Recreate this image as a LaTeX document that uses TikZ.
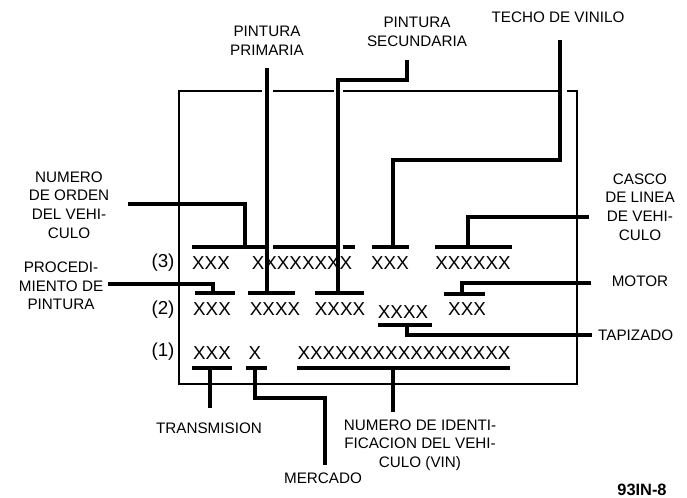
\documentclass[tikz,border=0pt]{standalone}
\usepackage{fontspec}
\setmainfont{Liberation Sans}
\usetikzlibrary{positioning}

\tikzset{
  code/.style={font=\fontsize{16}{16}\selectfont, inner sep=0pt},
  lbl/.style={font=\fontsize{13}{16}\selectfont, align=center, inner sep=0pt},
  bar/.style={line width=3pt},
  lead/.style={line width=3pt},
  frame/.style={line width=1.7pt},
}

\begin{document}
\begin{tikzpicture}[x=0.03cm,y=-0.03cm]
        \useasboundingbox (0,0) rectangle (687,498);

        \node[code] (c31) at (211,263) {XXX};
        \node[code] (c32) at (302,263) {XXXXXXXX};
        \node[code] (c33) at (390,263) {XXX};
        \node[code] (c34) at (473,263) {XXXXXX};
        \node[code] (c21) at (212,309) {XXX};
        \node[code] (c22) at (275,309) {XXXX};
        \node[code] (c23) at (340,309) {XXXX};
        \node[code] (c24) at (403,312) {XXXX};
        \node[code] (c25) at (467,309) {XXX};
        \node[code] (c11) at (212,353) {XXX};
        \node[code] (c12) at (255,353) {X};
        \node[code] (c13) at (404,353) {XXXXXXXXXXXXXXXXX};

        \node[code] (r3) at (163,263) {(3)};
        \node[code] (r2) at (163,310) {(2)};
        \node[code] (r1) at (163,352) {(1)};

        \node[lbl] (orden) at (69,205) {NUMERO\\DE ORDEN\\DEL VEHI-\\CULO};
        \node[lbl] (proc) at (61,286) {PROCEDI-\\MIENTO DE\\PINTURA};
        \node[lbl] (prim) at (267,41) {PINTURA\\PRIMARIA};
        \node[lbl] (sec) at (417,32) {PINTURA\\SECUNDARIA};
        \node[lbl] (techo) at (558,17) {TECHO DE VINILO};
        \node[lbl] (casco) at (640,207) {CASCO\\DE LINEA\\DE VEHI-\\CULO};
        \node[lbl] (motor) at (640,281) {MOTOR};
        \node[lbl, anchor=west] (tapiz) at (598,335) {TAPIZADO};
        \node[lbl] (trans) at (209,428) {TRANSMISION};
        \node[lbl] (merc) at (323,478) {MERCADO};
        \node[lbl] (vin) at (420,445) {NUMERO DE IDENTI-\\FICACION DEL VEHI-\\CULO (VIN)};
        \node[lbl, font=\fontsize{14}{14}\selectfont\bfseries] (fig) at (642,490) {93IN-8};

        \draw[frame] (262,91) -- (179,91) -- (179,384) -- (577,384) -- (577,91) -- (567,91);
        \draw[frame] (273,91) -- (334,91);
        \draw[frame] (343,91) -- (558,91);

        \draw[bar] (192,247) -- (267,247);
        \draw[bar] (273,247) -- (337,247);
        \draw[bar] (343,247) -- (355,247);
        \draw[bar] (372,247) -- (409,247);
        \draw[bar] (435,247) -- (512,247);
        \draw[bar] (195,293) -- (235,293);
        \draw[bar] (248,293) -- (295,293);
        \draw[bar] (315,293) -- (364,293);
        \draw[bar] (444,294) -- (485,294);
        \draw[bar] (378,325) -- (432,325);
        \draw[bar] (192,368) -- (232,368);
        \draw[bar] (246,368) -- (267,368);
        \draw[bar] (297,368) -- (510,368);

        \coordinate (orden-e) at (128,204);
        \coordinate (proc-e) at (108,284);
        \coordinate (prim-s) at (267,68);
        \coordinate (sec-s) at (407,60);
        \coordinate (techo-s) at (560,40);
        \coordinate (casco-w) at (589,217);
        \coordinate (motor-w) at (591,283);
        \coordinate (tapiz-w) at ([xshift=-5]tapiz.west);
        \coordinate (trans-n) at (210,408);
        \coordinate (merc-n) at (325,465);
        \coordinate (vin-n) at (393,412);

        \draw[lead] (orden-e) -| (245,247);
        \draw[lead] (proc-e) -| (213,293);
        \draw[lead] (prim-s) -- (267,293);
        \draw[lead] (sec-s) |- (338,80) -- (338,293);
        \draw[lead] (techo-s) |- (393,160) -- (393,247);
        \draw[lead] (casco-w) -| (468,247);
        \draw[lead] (motor-w) -| (462,294);
        \draw[lead] (tapiz-w) -| (407,325);
        \draw[lead] (210,368) -- (trans-n);
        \draw[lead] (255,368) |- (325,398) -- (merc-n);
        \draw[lead] (393,368) -- (vin-n);
    \end{tikzpicture}
\end{document}
